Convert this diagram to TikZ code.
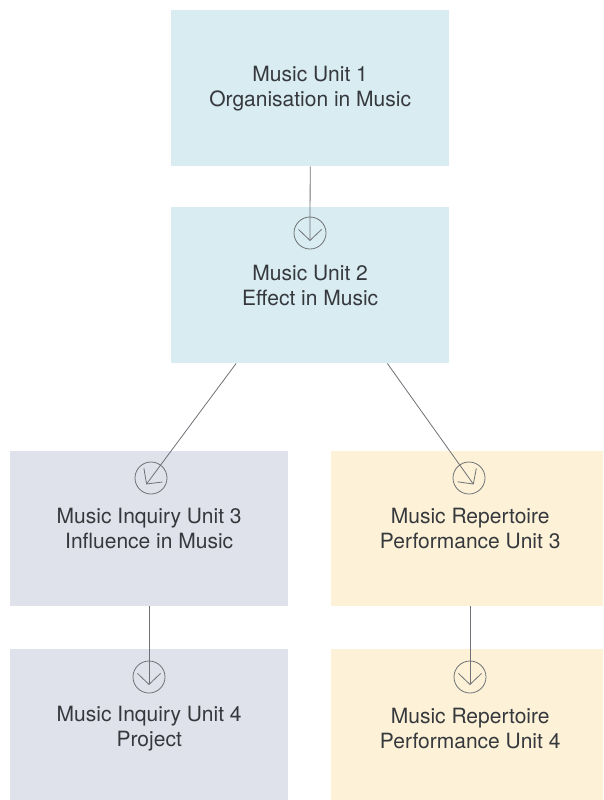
\documentclass[tikz,border=0pt]{standalone}
\usepackage{fontspec}
\setmainfont{TeX Gyre Heros}
\usetikzlibrary{arrows.meta,calc}
\definecolor{bblue}{HTML}{D9ECF1}
\definecolor{bgrey}{HTML}{DFE2EA}
\definecolor{byellow}{HTML}{FDF1D7}
\definecolor{lgrey}{HTML}{6E7276}
\definecolor{txt}{HTML}{35393D}
\begin{document}
\begin{tikzpicture}[x=1pt,y=-1pt,
  box/.style={rectangle, inner sep=0pt, minimum width=278pt, minimum height=156pt, anchor=north west, align=center, text=txt, font=\fontsize{21}{25}\selectfont},
  ring/.style={circle, draw=lgrey, line width=0.8pt, minimum size=32pt, inner sep=0pt},
  conn/.style={draw=lgrey, line width=0.8pt, -{Straight Barb[length=11pt,width=23pt,line width=0.8pt]}}
]
\useasboundingbox (0,0) rectangle (603,800);
\clip (0,0) rectangle (603,800);
\node[box, fill=bblue] (b1) at (171,10) {Music Unit 1\\Organisation in Music};
\node[box, fill=bblue] (b2) at (171,207) {Music Unit 2\\Effect in Music};
\node[box, fill=bgrey, minimum height=155pt] (b3) at (10,451) {Music Inquiry Unit 3\\Influence in Music};
\node[box, fill=byellow, minimum height=155pt] (b4) at (331,451) {Music Repertoire\\Performance Unit 3};
\node[box, fill=bgrey, minimum height=158pt] (b5) at (10,649) {Music Inquiry Unit 4\\Project};
\node[box, fill=byellow, minimum height=158pt] (b6) at (331,649) {Music Repertoire\\Performance Unit 4};
\node[ring] (c2) at (310,233) {};
\node[ring] (c3) at (151,478) {};
\node[ring] (c4) at (469,478) {};
\node[ring] (c5) at (149,677) {};
\node[ring] (c6) at (470,677) {};
\coordinate (s1) at (b1.south);
\coordinate (s2l) at ($(b2.south west)!0.234!(b2.south east)$);
\coordinate (s2r) at ($(b2.south west)!0.777!(b2.south east)$);
\coordinate (s3) at (149,606);
\coordinate (s4) at (470,606);
\draw[conn] (s1) -- ($(c2)!-8pt!(s1)$);
\draw[conn] (s2l) -- ($(c3)!-8pt!(s2l)$);
\draw[conn] (s2r) -- ($(c4)!-8pt!(s2r)$);
\draw[conn] (s3) -- ($(c5)!-8pt!(s3)$);
\draw[conn] (s4) -- ($(c6)!-8pt!(s4)$);
\end{tikzpicture}
\end{document}
